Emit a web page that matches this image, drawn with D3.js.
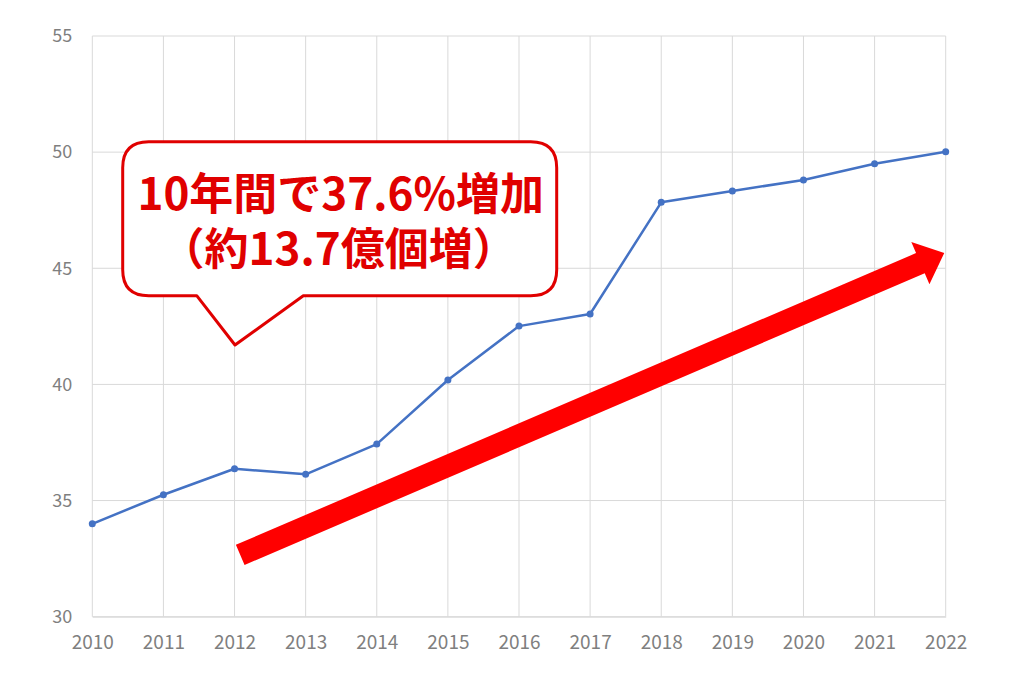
<!DOCTYPE html>
<html><head><meta charset="utf-8">
<script src="https://cdn.jsdelivr.net/npm/d3@7"></script>
<style>html,body{margin:0;padding:0;background:#fff;}svg{display:block;}</style>
</head><body>
<svg id="chart" width="1024" height="683"></svg>
<script>
const years = [2010,2011,2012,2013,2014,2015,2016,2017,2018,2019,2020,2021,2022];
const values = [34.0,35.25,36.37,36.13,37.43,40.19,42.51,43.03,47.84,48.33,48.8,49.5,50.02];
const yTicks = [30,35,40,45,50,55];
const calloutLines = ["10年間で37.6%増加","（約13.7億個増）"];
// annotation anchor points in data units
const arrowFrom = [2012.08, 32.66];
const arrowTo = [2021.98, 45.66];

const svg = d3.select("#chart");
const W = 1024, H = 683;
const m = {left:92.3, right:1024-945.7, top:36, bottom:683-616.7};
const x = d3.scaleLinear().domain([2010,2022]).range([m.left, W-m.right]);
const y = d3.scaleLinear().domain([30,55]).range([H-m.bottom, m.top]);

const grid = svg.append("g");
grid.selectAll("line.h").data(yTicks).join("line")
  .attr("x1", x(2010)).attr("x2", x(2022))
  .attr("y1", d=>y(d)).attr("y2", d=>y(d))
  .attr("stroke","#d9d9d9").attr("stroke-width",1);
grid.selectAll("line.v").data(years).join("line")
  .attr("x1", d=>x(d)).attr("x2", d=>x(d))
  .attr("y1", y(30)).attr("y2", y(55))
  .attr("stroke","#d9d9d9").attr("stroke-width",1);

const fontAxis = "'Noto Sans CJK JP','Noto Sans',sans-serif";
const yAxis = d3.axisLeft(y).tickValues(yTicks).tickSize(0).tickPadding(20);
svg.append("g").attr("transform",`translate(${x(2010)},0)`).call(yAxis)
  .call(g=>g.select(".domain").remove())
  .call(g=>g.selectAll("text").attr("fill","#7f7f7f").style("font-size","18px").style("font-family",fontAxis));
const xAxis = d3.axisBottom(x).tickValues(years).tickFormat(d3.format("d")).tickSize(0).tickPadding(19);
svg.append("g").attr("transform",`translate(0,${y(30)})`).call(xAxis)
  .call(g=>g.select(".domain").attr("stroke","#d9d9d9"))
  .call(g=>g.selectAll("text").attr("fill","#7f7f7f").style("font-size","19px").style("font-family",fontAxis));

const pts = years.map((d,i)=>[d, values[i]]);
svg.append("path").datum(pts)
  .attr("d", d3.line().x(d=>x(d[0])).y(d=>y(d[1])))
  .attr("fill","none").attr("stroke","#4472c4").attr("stroke-width",2.5).attr("stroke-linejoin","round");
svg.selectAll("circle.pt").data(pts).join("circle")
  .attr("cx", d=>x(d[0])).attr("cy", d=>y(d[1])).attr("r",3.5).attr("fill","#4472c4");

// Big red arrow
{
  const x0 = x(arrowFrom[0]), y0 = y(arrowFrom[1]);
  const x1 = x(arrowTo[0]), y1 = y(arrowTo[1]);
  const dx = x1-x0, dy = y1-y0, L = Math.hypot(dx,dy);
  const ux = dx/L, uy = dy/L, nx = -uy, ny = ux;
  const hw = 11, headW = 23, headL = 26;
  const bx = x1 - ux*headL, by = y1 - uy*headL;
  const P = [
    [x0+nx*hw, y0+ny*hw],[bx+nx*hw, by+ny*hw],[bx+nx*headW, by+ny*headW],[x1,y1],
    [bx-nx*headW, by-ny*headW],[bx-nx*hw, by-ny*hw],[x0-nx*hw, y0-ny*hw]
  ];
  svg.append("path").attr("d","M"+P.map(p=>p.join(",")).join("L")+"Z").attr("fill","#ff0000");
}

// Callout
{
  const L0 = 122.7, T0 = 141.7, R0 = 556.7, B0 = 295.7, r = 26;
  const pb1 = 196.7, pb2 = 303.3, tipX = 235, tipY = 345;
  const d = `M${L0+r},${T0} L${R0-r},${T0} Q${R0},${T0} ${R0},${T0+r} L${R0},${B0-r} Q${R0},${B0} ${R0-r},${B0}
    L${pb2},${B0} L${tipX},${tipY} L${pb1},${B0} L${L0+r},${B0} Q${L0},${B0} ${L0},${B0-r} L${L0},${T0+r} Q${L0},${T0} ${L0+r},${T0} Z`;
  svg.append("path").attr("d",d).attr("fill","#fff").attr("stroke","#e00000").attr("stroke-width",3).attr("stroke-linejoin","round");
  const cx = (L0+R0)/2;
  const txt = svg.append("text")
    .attr("text-anchor","middle")
    .attr("fill","#e00000")
    .style("font-family","'Noto Sans CJK JP',sans-serif")
    .style("font-weight","700")
    .style("font-size","44px");
  txt.selectAll("tspan").data(calloutLines).join("tspan")
    .attr("x", (d,i)=> i===0 ? cx+1 : cx-1)
    .attr("y", (d,i)=> 210 + i*55)
    .text(d=>d);
}
</script>
</body></html>
